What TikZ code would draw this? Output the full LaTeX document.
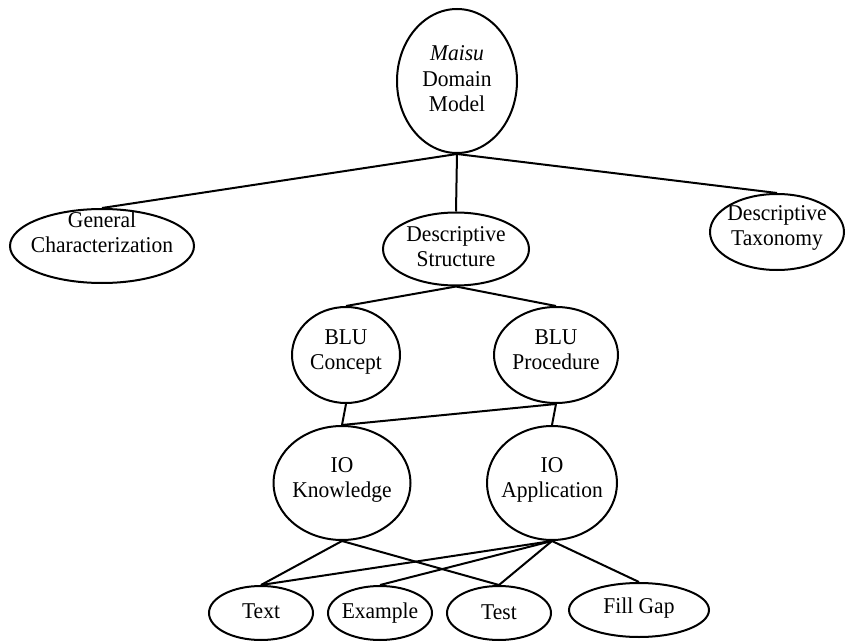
\documentclass[tikz,border=0pt]{standalone}
\usepackage{fontspec}
\setmainfont{Liberation Serif}
\usetikzlibrary{shapes.geometric}
\newcommand\lbl[2][0pt]{\makebox[0pt]{\raisebox{#1}[\height][\depth]{\scalebox{1}[1.05]{\begin{tabular}{@{}c@{}}#2\end{tabular}}}}}
\begin{document}
\begin{tikzpicture}[x=1pt,y=-1pt,
  ov/.style 2 args={ellipse, draw=black, line width=2pt, minimum width=#1pt, minimum height=#2pt, inner sep=0pt,
    font=\fontsize{21.5}{24}\selectfont},
  link/.style={line width=2pt}]
\useasboundingbox (0,0) rectangle (847,642);
\node[ov={120}{144}] (root) at (457,81) {\lbl{\textit{Maisu}\\Domain\\Model}};
\node[ov={184}{74}] (gen) at (102,246) {\lbl[11pt]{General\\Characterization}};
\node[ov={146}{73}] (ds) at (456,249) {\lbl{Descriptive\\Structure}};
\node[ov={134}{76}] (dt) at (777,232) {\lbl[4pt]{Descriptive\\Taxonomy}};
\node[ov={108}{96}] (bc) at (346,355) {\lbl[3pt]{BLU\\Concept}};
\node[ov={124}{96}] (bp) at (556,355) {\lbl[3pt]{BLU\\Procedure}};
\node[ov={137}{114}] (iok) at (342,483) {\lbl[3pt]{IO\\Knowledge}};
\node[ov={130}{114}] (ioa) at (552,483) {\lbl[3pt]{IO\\Application}};
\node[ov={104}{54}] (txt) at (261,613) {\lbl{Text}};
\node[ov={104}{54}] (ex) at (380,613) {\lbl{Example}};
\node[ov={104}{54}] (tst) at (499,613) {\lbl[-1pt]{Test}};
\node[ov={140}{54}] (fg) at (639,610) {\lbl[2pt]{Fill Gap}};
\draw[link] (root.south) -- (gen.north);
\draw[link] (root.south) -- (ds.north);
\draw[link] (root.south) -- (dt.north);
\draw[link] (ds.south) -- (bc.north);
\draw[link] (ds.south) -- (bp.north);
\draw[link] (bc.south) -- (iok.north);
\draw[link] (bp.south) -- (iok.north);
\draw[link] (bp.south) -- (ioa.north);
\draw[link] (iok.south) -- (txt.north);
\draw[link] (iok.south) -- (tst.north);
\draw[link] (ioa.south) -- (txt.north);
\draw[link] (ioa.south) -- (ex.north);
\draw[link] (ioa.south) -- (tst.north);
\draw[link] (ioa.south) -- (fg.north);
\end{tikzpicture}
\end{document}
